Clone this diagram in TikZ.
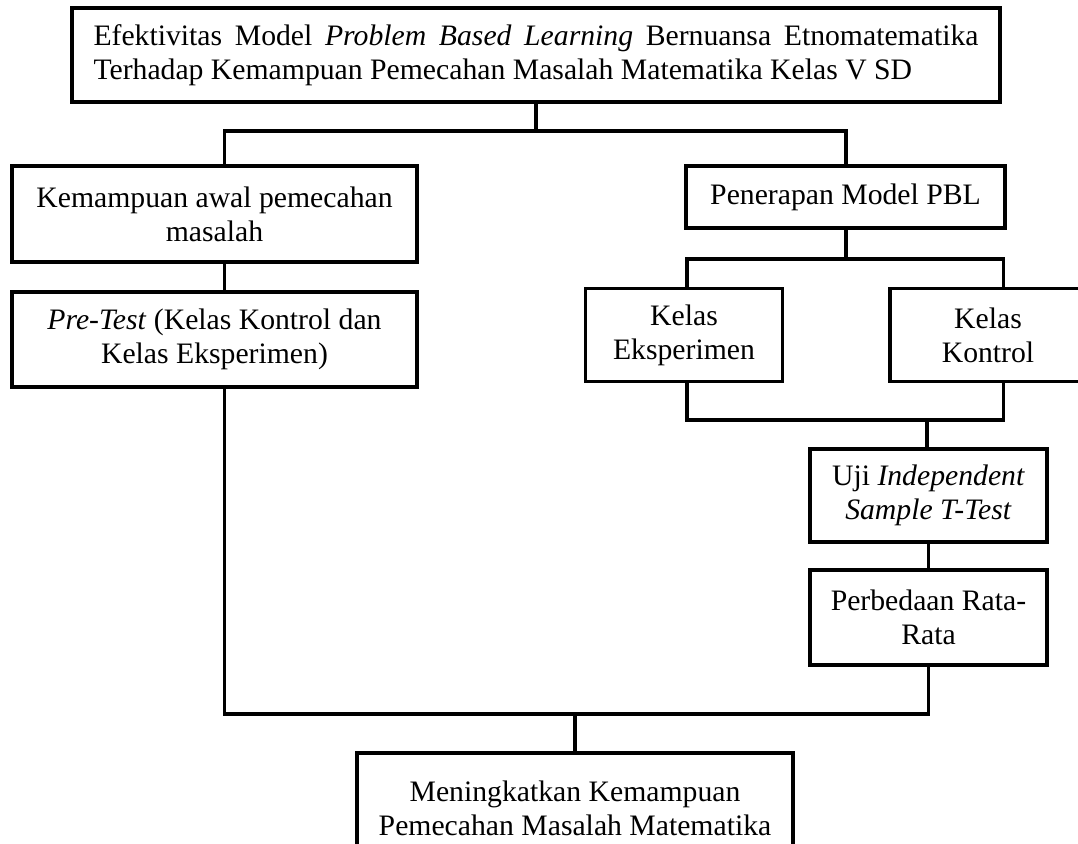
\documentclass[tikz,border=0pt]{standalone}
\usepackage{fontspec}
\setmainfont{Liberation Serif}
\newcommand{\fsz}{\fontsize{29.7pt}{34pt}\selectfont}
\begin{document}
\begin{tikzpicture}[x=1pt,y=-1pt,
  box/.style={draw, line width=3.8pt, inner sep=0pt, align=center, font=\fsz},
  conn/.style={line width=3.5pt, line join=miter}]
\useasboundingbox (0,0) rectangle (1078,843);
% nodes
\node[box, minimum width=928pt, minimum height=94pt, text width=885pt, align=justify] (top) at (536,55)
  {\hyphenpenalty=10000 Efektivitas Model \textit{Problem Based Learning} Bernuansa Etnomatematika\linebreak Terhadap Kemampuan Pemecahan Masalah Matematika Kelas V SD};
\node[box, minimum width=405pt, minimum height=96pt] (left1) at (214.5,214) {Kemampuan awal pemecahan\\masalah};
\node[box, minimum width=319pt, minimum height=62pt] (pbl) at (845.5,197) {Penerapan Model PBL};
\node[box, minimum width=405pt, minimum height=95pt] (pre) at (214.5,339.5) {\textit{Pre-Test} (Kelas Kontrol dan\\Kelas Eksperimen)};
\node[box, minimum width=197pt, minimum height=93pt] (eks) at (684,335) {Kelas\\Eksperimen};
\node[box, minimum width=196pt, minimum height=93pt] (kon) at (988,335) {Kelas\\Kontrol};
\node[box, minimum width=237pt, minimum height=93pt] (uji) at (928.5,495.5) {Uji \textit{Independent}\\\textit{Sample T-Test}};
\node[box, minimum width=237pt, minimum height=95pt] (perb) at (928.5,617.5) {Perbedaan Rata-\\Rata};
\node[box, minimum width=436pt, minimum height=110pt] (bot) at (575,808) {Meningkatkan Kemampuan\\Pemecahan Masalah Matematika};
% bus coordinates
\coordinate (busA) at (0,131);
\coordinate (busB) at (0,259);
\coordinate (busC) at (0,420);
\coordinate (busD) at (0,714);
\coordinate (xL) at (224.5,0);
\coordinate (xR) at (846,0);
\coordinate (xE) at (687,0);
\coordinate (xK) at (1003.5,0);
\coordinate (xU) at (927,0);
% connectors
\draw[conn] (top.south) -- (top.south |- busA);
\draw[conn] (left1.north -| xL) |- (busA -| xR) -- (pbl.north -| xR);
\draw[conn] (left1.south -| xL) -- (pre.north -| xL);
\draw[conn] (pbl.south -| xR) -- (busB -| xR);
\draw[conn] (eks.north -| xE) |- (busB -| xK) -- (kon.north -| xK);
\draw[conn] (eks.south -| xE) |- (busC -| xK) -- (kon.south -| xK);
\draw[conn] (busC -| xU) -- (uji.north -| xU);
\draw[conn] (uji.south) -- (perb.north);
\draw[conn] (pre.south -| xL) |- (busD -| perb.south) -- (perb.south);
\draw[conn] (busD -| bot.north) -- (bot.north);
\end{tikzpicture}
\end{document}
